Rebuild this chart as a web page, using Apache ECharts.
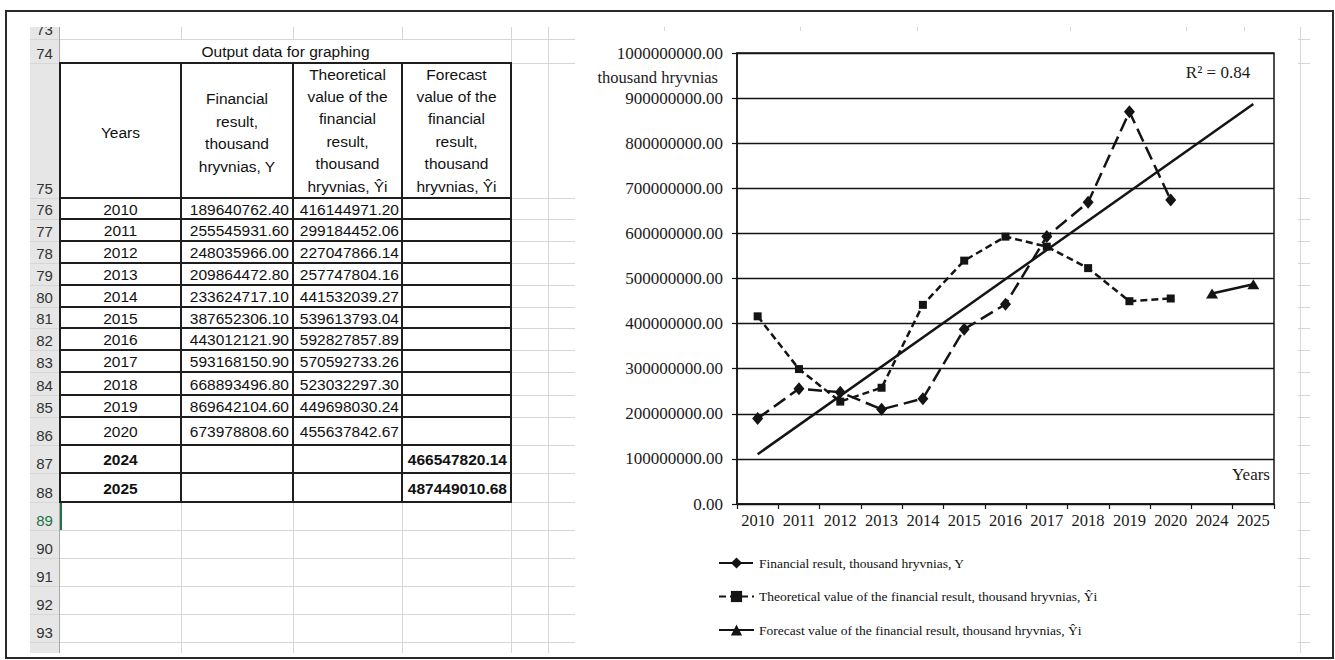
<!DOCTYPE html>
<html>
<head>
<meta charset="utf-8">
<script src="https://cdn.jsdelivr.net/npm/echarts@6.0.0/dist/echarts.min.js"></script>
<style>
  html, body { margin:0; padding:0; background:#fff; }
  body { width:1335px; height:660px; position:relative; overflow:hidden; }
  .abs { position:absolute; box-sizing:border-box; }
  .cell { position:absolute; box-sizing:border-box; display:flex; font-family:"Liberation Sans", Arial, sans-serif; font-size:15.5px; color:#111; overflow:hidden; white-space:nowrap; }
  #chart { position:absolute; left:575px; top:31px; width:723px; height:622px; background:#fff; }
</style>
</head>
<body>
<div id="sheet"></div>
<div id="chart"></div>
<div class="abs" style="left:5px;top:10px;width:1329px;height:649px;border:2px solid #2a2a2a;"></div>
<script>
// ---------------- DATA ----------------
const years = ['2010','2011','2012','2013','2014','2015','2016','2017','2018','2019','2020','2024','2025'];
const financialResult = [189640762.40, 255545931.60, 248035966.00, 209864472.80, 233624717.10, 387652306.10, 443012121.90, 593168150.90, 668893496.80, 869642104.60, 673978808.60, null, null];
const theoreticalValue = [416144971.20, 299184452.06, 227047866.14, 257747804.16, 441532039.27, 539613793.04, 592827857.89, 570592733.26, 523032297.30, 449698030.24, 455637842.67, null, null];
const forecastValue = [null, null, null, null, null, null, null, null, null, null, null, 466547820.14, 487449010.68];
const trendYears = ['2010', '2025'];
const trendValues = [110400000, 886800000];
const rSquaredLabel = 'R\u00B2 = 0.84';
const seriesNames = [
  'Financial result, thousand hryvnias, Y',
  'Theoretical value of the financial result, thousand hryvnias, \u0176i',
  'Forecast value of the financial result, thousand hryvnias, \u0176i'
];
const tableTitle = 'Output data for graphing';
const headerA = 'Years';
const headerB = ['Financial', 'result,', 'thousand', 'hryvnias, Y'];
const headerC = ['Theoretical', 'value of the', 'financial', 'result,', 'thousand', 'hryvnias, \u0176i'];
const headerD = ['Forecast', 'value of the', 'financial', 'result,', 'thousand', 'hryvnias, \u0176i'];
const firstRowNumber = 73;
const lastNumberedRow = 93;

// ---------------- SPREADSHEET LAYOUT ----------------
const sheet = document.getElementById('sheet');
const rowTops = [27,39,63,198,219,241,263,285,307,328,350,372,395,417,445,473,502,530,558,586,614,642,653];
const colX = [60,181,293,402,511,548];
const extraCols = [664,800,917,1070,1186,1244,1300];

function box(x, y, w, h, css) {
  const d = document.createElement('div');
  d.className = 'abs';
  d.style.cssText = `left:${x}px;top:${y}px;width:${w}px;height:${h}px;` + (css || '');
  sheet.appendChild(d);
  return d;
}
function cell(x, y, w, h, html, css) {
  const d = document.createElement('div');
  d.className = 'cell';
  d.style.cssText = `left:${x}px;top:${y}px;width:${w}px;height:${h}px;` + (css || '');
  d.innerHTML = html;
  sheet.appendChild(d);
  return d;
}

// row header background
box(30, 27, 30, 626, 'background:#e6e6e6;');
// gray horizontal grid lines
for (let i = 1; i < rowTops.length - 1; i++) {
  box(30, rowTops[i], 1280, 1, 'background:#d6d6d6;');
}
// gray vertical lines
[181, 293, 402].forEach(x => {
  box(x, 27, 1, 12, 'background:#d6d6d6;');
  box(x, 63, 1, 590, 'background:#d6d6d6;');
});
[511, 548].concat(extraCols).forEach(x => box(x, 27, 1, 626, 'background:#d6d6d6;'));
// header right edge
box(59, 27, 1, 626, 'background:#a8a8a8;');

// row numbers
for (let i = 0; i < rowTops.length - 1; i++) {
  const n = firstRowNumber + i;
  if (n > lastNumberedRow) continue;
  const h = rowTops[i+1] - rowTops[i];
  const green = (n === 89);
  cell(30, rowTops[i], 29, h, String(n),
    'justify-content:center;align-items:flex-end;padding-bottom:1px;font-size:15px;color:' + (green ? '#217346' : '#333') + ';');
}
// active cell green marker
box(60, 502, 2, 28, 'background:#217346;');

// title row 74
cell(60, 39, 451, 24, tableTitle, 'justify-content:center;align-items:center;padding-top:2px;');

// header row 75
const hTop = rowTops[2], hBot = rowTops[3];
cell(colX[0], hTop, colX[1]-colX[0], hBot-hTop, headerA, 'justify-content:center;align-items:center;padding-top:4px;');
cell(colX[1], hTop, colX[2]-colX[1], hBot-hTop, headerB.join('<br>'), 'justify-content:center;align-items:center;text-align:center;line-height:22.5px;padding-top:5px;');
cell(colX[2], hTop, colX[3]-colX[2], hBot-hTop, headerC.join('<br>'), 'justify-content:center;align-items:flex-end;text-align:center;line-height:22.4px;padding-bottom:0px;');
cell(colX[3], hTop, colX[4]-colX[3], hBot-hTop, headerD.join('<br>'), 'justify-content:center;align-items:flex-end;text-align:center;line-height:22.4px;padding-bottom:0px;');

// data rows
years.forEach((yr, k) => {
  const top = rowTops[3 + k], h = rowTops[4 + k] - top;
  const bold = forecastValue[k] !== null ? 'font-weight:bold;' : '';
  cell(colX[0], top, colX[1]-colX[0], h, yr, 'justify-content:center;align-items:center;padding-top:2px;' + bold);
  if (financialResult[k] !== null)
    cell(colX[1], top, colX[2]-colX[1], h, financialResult[k].toFixed(2), 'justify-content:flex-end;align-items:center;padding-top:2px;padding-right:4px;');
  if (theoreticalValue[k] !== null)
    cell(colX[2], top, colX[3]-colX[2], h, theoreticalValue[k].toFixed(2), 'justify-content:flex-end;align-items:center;padding-top:2px;padding-right:3px;');
  if (forecastValue[k] !== null)
    cell(colX[3], top, colX[4]-colX[3], h, forecastValue[k].toFixed(2), 'justify-content:flex-end;align-items:center;padding-top:2px;padding-right:4px;font-weight:bold;');
});

// black table borders
const tblTopIdx = 2, tblBotIdx = 3 + years.length;
for (let i = tblTopIdx; i <= tblBotIdx; i++) {
  box(colX[0], rowTops[i] - 1, colX[4] - colX[0] + 1, 2, 'background:#1e1e1e;');
}
colX.slice(0, 5).forEach(x => {
  box(x - 1, rowTops[tblTopIdx] - 1, 2, rowTops[tblBotIdx] - rowTops[tblTopIdx] + 2, 'background:#1e1e1e;');
});

// ---------------- CHART ----------------
const serif = '"Liberation Serif", "Times New Roman", serif';
const chart = echarts.init(document.getElementById('chart'), null, { renderer: 'svg' });
const ink = '#141414';
chart.setOption({
  animation: false,
  backgroundColor: '#fff',
  grid: { left: 162, right: 24, top: 22, bottom: 149, show: true, borderColor: ink, borderWidth: 1.5, containLabel: false },
  xAxis: {
    type: 'category', data: years, boundaryGap: true,
    axisLine: { show: true, lineStyle: { color: ink, width: 1.5 } },
    axisTick: { show: true, length: 5, lineStyle: { color: ink, width: 1.2 } },
    axisLabel: { interval: 0, margin: 8, fontFamily: serif, fontSize: 16.5, color: '#1a1a1a' },
    splitLine: { show: false }
  },
  yAxis: {
    type: 'value', min: 0, max: 1000000000, interval: 100000000,
    axisLine: { show: true, lineStyle: { color: ink, width: 1.5 } },
    axisTick: { show: true, length: 5, lineStyle: { color: ink, width: 1.2 } },
    axisLabel: { margin: 14, fontFamily: serif, fontSize: 17, color: '#1a1a1a', formatter: v => v.toFixed(2) },
    splitLine: { show: true, lineStyle: { color: ink, width: 1.3 } }
  },
  legend: {
    orient: 'vertical', left: 143, top: 525, padding: 0, itemWidth: 35, itemHeight: 14, itemGap: 19.5,
    data: seriesNames,
    textStyle: { fontFamily: serif, fontSize: 13.5, color: '#111' }
  },
  graphic: [
    { type: 'text', x: 143, y: 46, style: { text: 'thousand hryvnias', fontFamily: serif, fontSize: 16.5, fill: '#1a1a1a', align: 'right', verticalAlign: 'middle' } },
    { type: 'text', x: 643, y: 41, style: { text: rSquaredLabel, fontFamily: serif, fontSize: 17, fill: '#1a1a1a', align: 'center', verticalAlign: 'middle' } },
    { type: 'text', x: 695, y: 443, style: { text: 'Years', fontFamily: serif, fontSize: 17, fill: '#1a1a1a', align: 'right', verticalAlign: 'middle' } }
  ],
  series: [
    {
      name: 'trend', type: 'line', data: trendYears.map((y, i) => [y, trendValues[i]]),
      symbol: 'none', silent: true, z: 1,
      lineStyle: { color: ink, width: 2.5, type: 'solid' }
    },
    {
      name: seriesNames[0], type: 'line', data: financialResult,
      symbol: 'diamond', symbolSize: [11, 13], z: 3,
      itemStyle: { color: ink },
      lineStyle: { color: ink, width: 2.5, type: [14, 6] }
    },
    {
      name: seriesNames[1], type: 'line', data: theoreticalValue,
      symbol: 'rect', symbolSize: 8, z: 3,
      itemStyle: { color: ink },
      lineStyle: { color: ink, width: 2.5, type: [7, 4] }
    },
    {
      name: seriesNames[2], type: 'line', data: forecastValue,
      symbol: 'triangle', symbolSize: [12, 10], z: 3,
      itemStyle: { color: ink },
      lineStyle: { color: ink, width: 2.5, type: 'solid' }
    }
  ]
});
</script>
</body>
</html>
